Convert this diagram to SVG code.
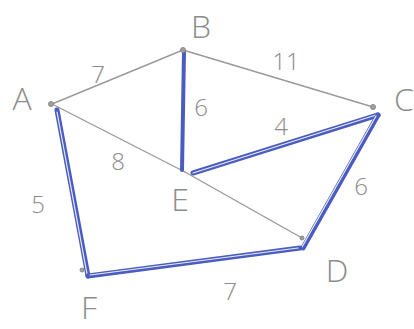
<svg xmlns="http://www.w3.org/2000/svg" width="414" height="329" viewBox="0 0 414 329">
<style>
.g{stroke:#9a9a9a;stroke-width:1.4;fill:none;stroke-linecap:round}
.b{stroke:#4a5cbf;stroke-width:5;fill:none;stroke-linecap:round;stroke-linejoin:round}
.bi{stroke:#e8ecf8;stroke-width:1.2;fill:none;stroke-linecap:round}
.bs{stroke:#4a5cbf;stroke-width:4;fill:none;stroke-linecap:round}
.n{fill:#a0a0a0;stroke:#888;stroke-width:1}
.lab{font-family:"Open Sans","DejaVu Sans",sans-serif;font-weight:300;fill:#8c8c8c;text-anchor:middle;dominant-baseline:central}
.ln{font-size:32px}
.le{font-size:24px}
</style>
<rect width="414" height="329" fill="#ffffff"/>
<g id="connectors">
  <line class="g" x1="52" y1="104" x2="183" y2="50"/>
  <line class="g" x1="183" y1="50" x2="373" y2="107"/>
  <line class="g" x1="52" y1="104" x2="185" y2="172"/>
  <line class="g" x1="185" y1="172" x2="302" y2="238"/>
  <line class="bs" x1="184" y1="52" x2="182" y2="170"/>
  <line class="b" x1="193" y1="173" x2="378" y2="115"/>
  <line class="bi" x1="193" y1="173" x2="376" y2="115"/>
  <line class="b" x1="378" y1="115" x2="303" y2="248"/>
  <line class="bi" x1="376" y1="116" x2="302" y2="247"/>
  <line class="b" x1="57" y1="110" x2="88" y2="276"/>
  <line class="bi" x1="57" y1="112" x2="87" y2="274"/>
  <line class="b" x1="88" y1="276" x2="300" y2="248"/>
  <line class="bi" x1="90" y1="275" x2="298" y2="248"/>
</g>
<g id="node-A"><circle class="n" cx="51" cy="104" r="2.5"/><text class="lab ln" x="22" y="97">A</text></g>
<g id="node-B"><circle class="n" cx="183" cy="50" r="2.5"/><text class="lab ln" x="201" y="25">B</text></g>
<g id="node-C"><circle class="n" cx="373" cy="107" r="2.5"/><text class="lab ln" x="404" y="98">C</text></g>
<g id="node-D"><circle class="n" cx="302" cy="238" r="2"/><text class="lab ln" x="337" y="269">D</text></g>
<g id="node-E"><text class="lab ln" x="180" y="198">E</text></g>
<g id="node-F"><circle class="n" cx="82" cy="270" r="2"/><text class="lab ln" x="89" y="306">F</text></g>
<g id="edge-labels">
  <text class="lab le" x="98" y="73">7</text>
  <text class="lab le" x="286" y="60">11</text>
  <text class="lab le" x="201" y="106">6</text>
  <text class="lab le" x="281" y="125">4</text>
  <text class="lab le" x="118" y="160">8</text>
  <text class="lab le" x="38" y="203">5</text>
  <text class="lab le" x="361" y="185">6</text>
  <text class="lab le" x="230" y="290">7</text>
</g>
</svg>
